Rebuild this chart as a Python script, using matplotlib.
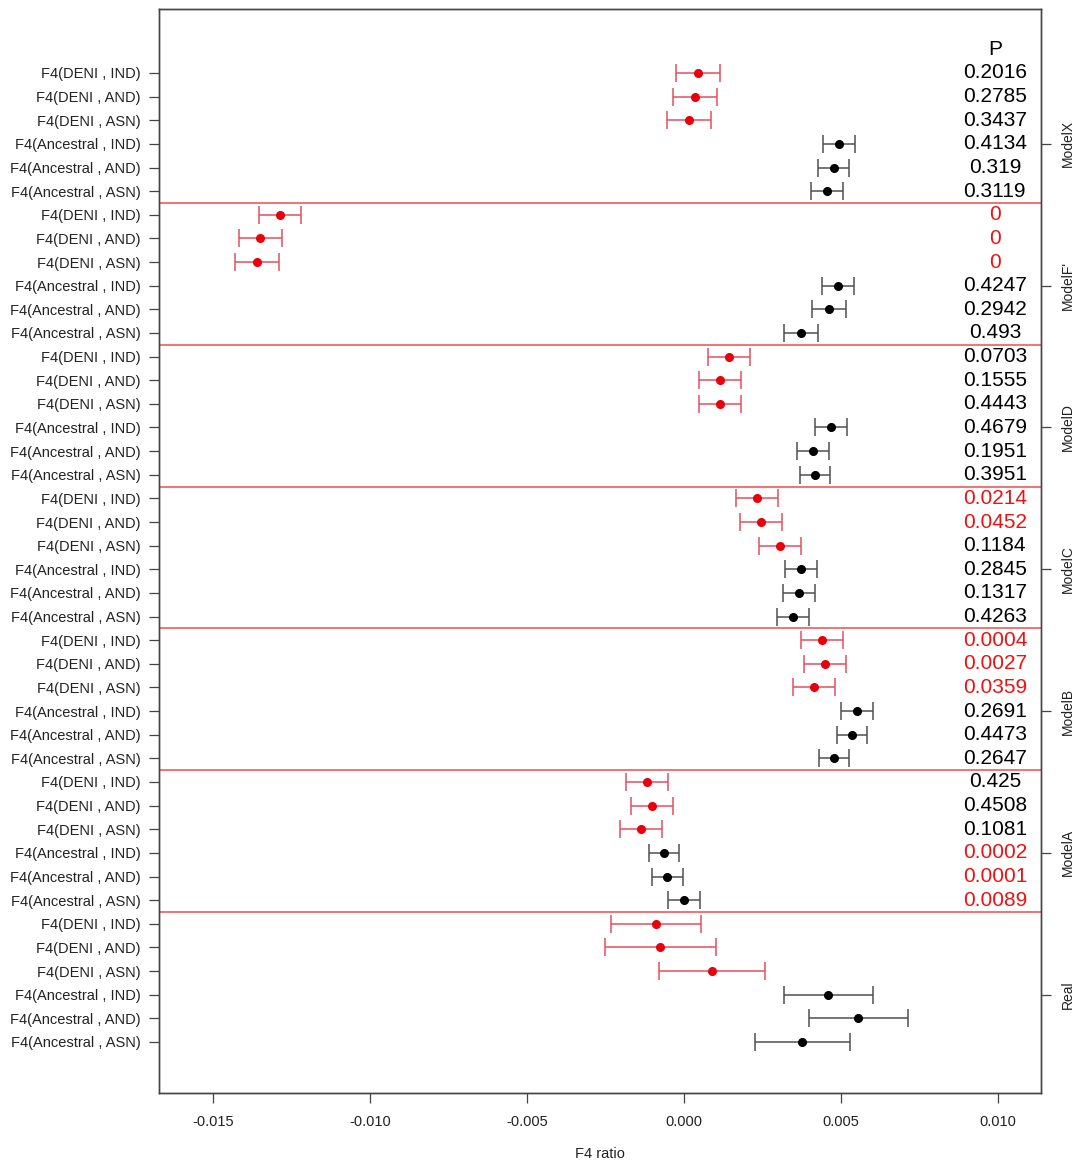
import matplotlib
matplotlib.use("Agg")
import matplotlib.pyplot as plt
import numpy as np

plt.rcParams["font.family"] = ["Liberation Sans", "DejaVu Sans"]

# Models, top to bottom
groups = ["ModelX", "ModelF'", "ModelD", "ModelC", "ModelB", "ModelA", "Real"]
comparisons = ["F4(DENI , IND)", "F4(DENI , AND)", "F4(DENI , ASN)",
               "F4(Ancestral , IND)", "F4(Ancestral , AND)", "F4(Ancestral , ASN)"]

# F4 ratio estimates per model
est_modelx = [0.00044, 0.00035, 0.00016, 0.00493, 0.00477, 0.00455]
est_modelf = [-0.01286, -0.01349, -0.01360, 0.00490, 0.00462, 0.00373]
est_modeld = [0.00143, 0.00115, 0.00115, 0.00468, 0.00411, 0.00417]
est_modelc = [0.00232, 0.00245, 0.00306, 0.00373, 0.00366, 0.00347]
est_modelb = [0.00440, 0.00449, 0.00414, 0.00551, 0.00535, 0.00478]
est_modela = [-0.00118, -0.00101, -0.00137, -0.00064, -0.00053, 0.00000]
est_real = [-0.00088, -0.00075, 0.00090, 0.00460, 0.00555, 0.00377]

# Half-widths of the confidence intervals
err_modelx = [0.00071, 0.00071, 0.00071, 0.00051, 0.00049, 0.00050]
err_modelf = [0.00067, 0.00069, 0.00069, 0.00051, 0.00053, 0.00053]
err_modeld = [0.00068, 0.00068, 0.00067, 0.00051, 0.00051, 0.00049]
err_modelc = [0.00067, 0.00067, 0.00067, 0.00051, 0.00051, 0.00051]
err_modelb = [0.00067, 0.00067, 0.00067, 0.00051, 0.00049, 0.00049]
err_modela = [0.00066, 0.00067, 0.00067, 0.00049, 0.00050, 0.00050]
err_real = [0.00143, 0.00177, 0.00169, 0.00142, 0.00158, 0.00151]

# P values of each simulated model against the real data
p_modelx = ["0.2016", "0.2785", "0.3437", "0.4134", "0.319", "0.3119"]
p_modelf = ["0", "0", "0", "0.4247", "0.2942", "0.493"]
p_modeld = ["0.0703", "0.1555", "0.4443", "0.4679", "0.1951", "0.3951"]
p_modelc = ["0.0214", "0.0452", "0.1184", "0.2845", "0.1317", "0.4263"]
p_modelb = ["0.0004", "0.0027", "0.0359", "0.2691", "0.4473", "0.2647"]
p_modela = ["0.425", "0.4508", "0.1081", "0.0002", "0.0001", "0.0089"]

est_all = [est_modelx, est_modelf, est_modeld, est_modelc, est_modelb, est_modela, est_real]
err_all = [err_modelx, err_modelf, err_modeld, err_modelc, err_modelb, err_modela, err_real]
p_all = [p_modelx, p_modelf, p_modeld, p_modelc, p_modelb, p_modela]

n_per = len(comparisons)
n_rows = n_per * len(groups)

fig = plt.figure(figsize=(10.79, 11.62), dpi=100)
ax = fig.add_axes([0.1474, 0.0594, 0.8174, 0.9329])

RED_PT = "#e8000b"
RED_BAR = "#e2505e"
BLK_PT = "#000000"
BLK_BAR = "#505050"
P_X = 0.0099

for g, name in enumerate(groups):
    for j in range(n_per):
        row = g * n_per + j
        deni = j < 3
        ax.errorbar(est_all[g][j], row, xerr=err_all[g][j], fmt="none",
                    ecolor=RED_BAR if deni else BLK_BAR, elinewidth=1.1,
                    capsize=6.5, capthick=1.1, zorder=2)
        ax.plot(est_all[g][j], row, "o", color=RED_PT if deni else BLK_PT,
                markersize=5.5, zorder=3)
        if g < len(p_all):
            p = p_all[g][j]
            ax.text(P_X, row, p, ha="center", va="center", fontsize=15,
                    color="#ee1111" if float(p) < 0.05 else "black")
    if g < len(groups) - 1:
        ax.axhline(g * n_per + n_per - 0.5, color="#e83030", lw=1.1,
                   alpha=0.85, zorder=1)

ax.text(P_X, -1, "P", ha="center", va="center", fontsize=15, color="black")

ax.set_xlim(-0.01672, 0.01137)
ax.set_ylim(n_rows - 1 + 2.16, -2.71)

ax.set_xticks([-0.015, -0.010, -0.005, 0.000, 0.005, 0.010])
ax.set_xticklabels(["-0.015", "-0.010", "-0.005", "0.000", "0.005", "0.010"],
                   fontsize=10.5, color="#222222")
ax.set_xlabel("F4 ratio", fontsize=10.5, color="#222222", labelpad=13)

ax.set_yticks(np.arange(n_rows))
ax.set_yticklabels(comparisons * len(groups), fontsize=10.5, color="#222222")
ax.tick_params(axis="x", length=7, width=0.9, color="#444444", pad=8.5)
ax.tick_params(axis="y", length=7, width=0.9, color="#444444", pad=6)

# Model names on the right-hand axis
ax2 = ax.twinx()
ax2.set_ylim(ax.get_ylim())
ax2.set_yticks([g * n_per + 3 for g in range(len(groups))])
ax2.set_yticklabels(groups, rotation=90, va="center", fontsize=10,
                    color="#222222")
ax2.tick_params(axis="y", length=7, width=0.9, color="#444444", pad=7)

for a in (ax, ax2):
    for s in a.spines.values():
        s.set_color("#444444")
        s.set_linewidth(1.0)

fig.savefig("out.png", dpi=100)
